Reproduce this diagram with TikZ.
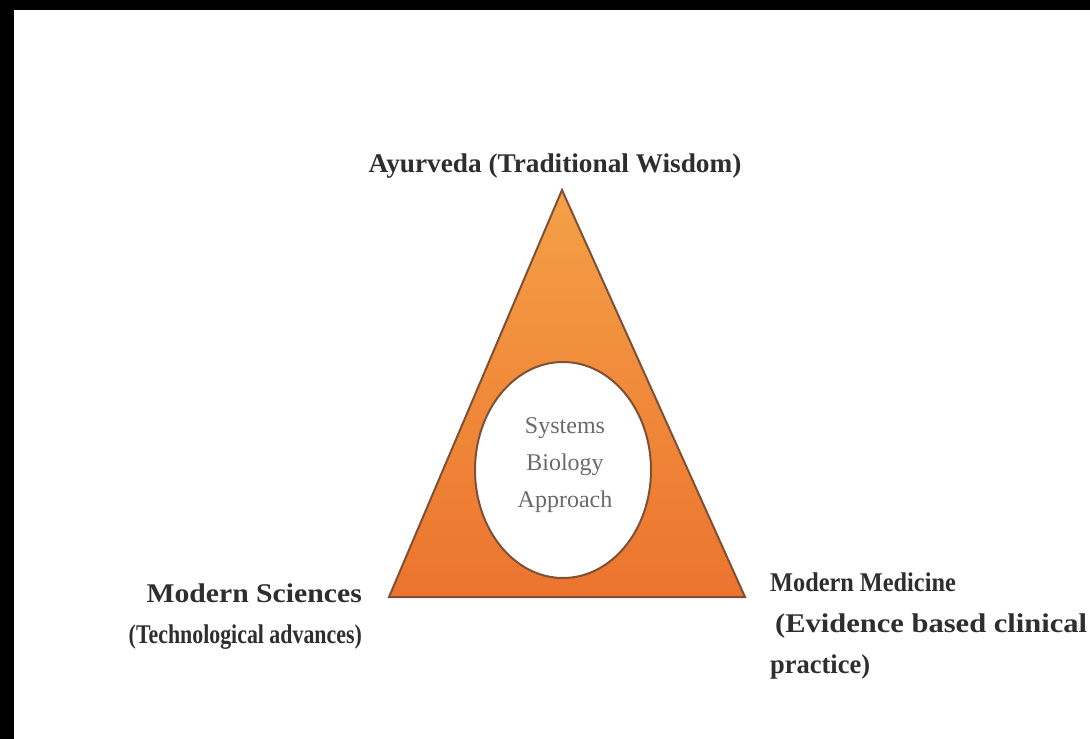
\documentclass[tikz,border=0pt]{standalone}
\usepackage{fontspec}
\setmainfont{Liberation Serif}
\usetikzlibrary{positioning,shapes}
\definecolor{trilight}{HTML}{F4A046}
\definecolor{tridark}{HTML}{EC742E}
\definecolor{triline}{HTML}{7E5036}
\definecolor{lblgray}{HTML}{2E2E2E}
\definecolor{innergray}{HTML}{6A6A6A}

\begin{document}
\begin{tikzpicture}[x=1pt,y=-1pt,
  lbl/.style={text=lblgray,font=\fontsize{27}{41}\selectfont\bfseries,inner sep=0pt}]
\useasboundingbox (0,0) rectangle (1090,739);
\fill[white] (0,0) rectangle (1090,739);
\fill[black] (0,0) rectangle (1090,10);
\fill[black] (0,0) rectangle (14,739);
\coordinate (1) at (562,190);
\coordinate (2) at (389,597);
\coordinate (3) at (745,597);
\draw[triline,line width=2pt,top color=trilight,bottom color=tridark] (1) -- (2) -- (3) -- cycle;
\node[draw=triline,fill=white,ellipse,line width=2pt,minimum width=176,minimum height=216] (4) at (563,470) {};
\node[align=center,text=innergray,font=\fontsize{24}{37}\selectfont,inner sep=0pt] (5) at (565,465)
{Systems\\Biology\\Approach};
\node[lbl] (6) at (555,166) {\scalebox{1.01}[1]{Ayurveda (Traditional Wisdom)}};
\node[lbl,align=right,anchor=north east] (7) at (362,584)
{\scalebox{1.1}[1]{Modern Sciences}\\\scalebox{0.81}[1]{(Technological advances)}};
\node[lbl,align=left,anchor=north west] (8) at (770,573)
{\scalebox{0.9}[1]{Modern Medicine}\\\hspace{5pt}\scalebox{1.13}[1]{(Evidence based clinical}\\\scalebox{0.98}[1]{practice)}};
\end{tikzpicture}
\end{document}
